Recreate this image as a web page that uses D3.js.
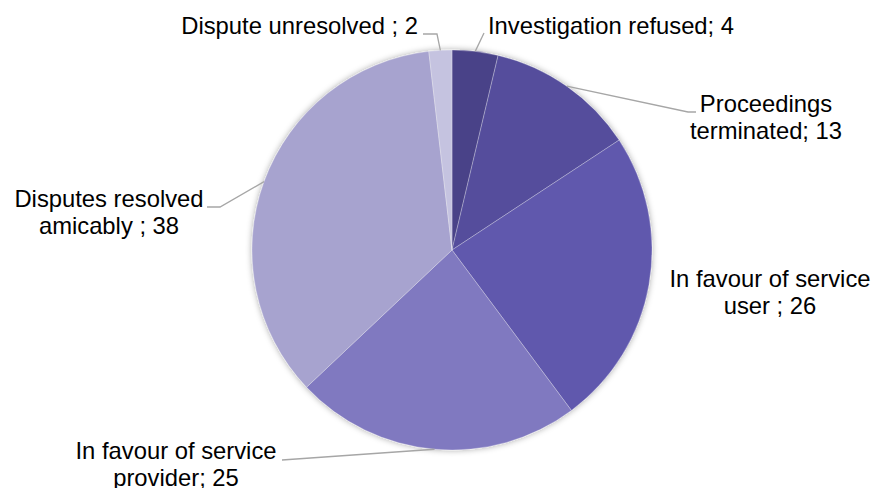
<!DOCTYPE html>
<html>
<head>
<meta charset="utf-8">
<script src="https://cdn.jsdelivr.net/npm/d3@7"></script>
<style>
  html, body { margin: 0; padding: 0; background: #ffffff; }
  svg { display: block; }
  text { font-family: "Liberation Sans", Arial, sans-serif; font-size: 23.8px; fill: #000; }
</style>
</head>
<body>
<svg id="chart" width="873" height="488"></svg>
<script>
// Case outcomes
const categories = [
  "Investigation refused",
  "Proceedings terminated",
  "In favour of service user",
  "In favour of service provider",
  "Disputes resolved amicably",
  "Dispute unresolved"
];
const values = [4, 13, 26, 25, 38, 2];
const labelLines = [
  ["Investigation refused; 4"],
  ["Proceedings", "terminated; 13"],
  ["In favour of service", "user ; 26"],
  ["In favour of service", "provider; 25"],
  ["Disputes resolved", "amicably ; 38"],
  ["Dispute unresolved ; 2"]
];
const colors = ["#4a4288", "#544e9c", "#6159ad", "#8079c0", "#a7a3cf", "#c5c3e0"];

// label placement: anchor, x, first baseline, and the elbow of the leader line
const labelLayout = [
  { anchor: "start",  x: 488, y: 34,  elbow: [[484, 33]] },
  { anchor: "middle", x: 766, y: 112, elbow: [[688, 112], [696, 112]] },
  { anchor: "middle", x: 770, y: 286.5, elbow: null },
  { anchor: "middle", x: 176, y: 459, elbow: [[282, 460]] },
  { anchor: "middle", x: 109, y: 206.5, elbow: [[220, 207], [207, 207]] },
  { anchor: "end",    x: 418, y: 34,  elbow: [[437, 34], [423, 34]] }
];

const cx = 452, cy = 250, r = 200;
const svg = d3.select("#chart");

const defs = svg.append("defs");
const f = defs.append("filter").attr("id", "shadow")
  .attr("x", "-10%").attr("y", "-10%").attr("width", "120%").attr("height", "120%");
f.append("feDropShadow").attr("dx", 0).attr("dy", 0).attr("stdDeviation", 3)
  .attr("flood-color", "#000").attr("flood-opacity", 0.35);

const data = categories.map((c, i) => ({ name: c, value: values[i], i }));
const pie = d3.pie().value(d => d.value).sort(null);
const arcs = pie(data);
const arc = d3.arc().innerRadius(0).outerRadius(r);

const g = svg.append("g").attr("transform", `translate(${cx},${cy})`);
g.append("g").attr("filter", "url(#shadow)")
  .selectAll("path").data(arcs).join("path")
  .attr("d", arc)
  .attr("fill", d => colors[d.data.i])
  .attr("stroke", "#ffffff").attr("stroke-opacity", 0.35).attr("stroke-width", 0.8);

// leader lines from the slice edge to its label
arcs.forEach(a => {
  const L = labelLayout[a.data.i];
  if (!L.elbow) return;
  const mid = (a.startAngle + a.endAngle) / 2;
  const p0 = [cx + r * Math.sin(mid), cy - r * Math.cos(mid)];
  const pts = [p0, ...L.elbow];
  svg.append("path")
    .attr("d", d3.line()(pts))
    .attr("fill", "none")
    .attr("stroke", "#a6a6a6")
    .attr("stroke-width", 1.3);
});

// labels
arcs.forEach(a => {
  const L = labelLayout[a.data.i];
  const t = svg.append("text")
    .attr("text-anchor", L.anchor)
    .attr("x", L.x).attr("y", L.y);
  labelLines[a.data.i].forEach((line, k) => {
    t.append("tspan").attr("x", L.x).attr("dy", k === 0 ? 0 : 27).text(line);
  });
});
</script>
</body>
</html>
